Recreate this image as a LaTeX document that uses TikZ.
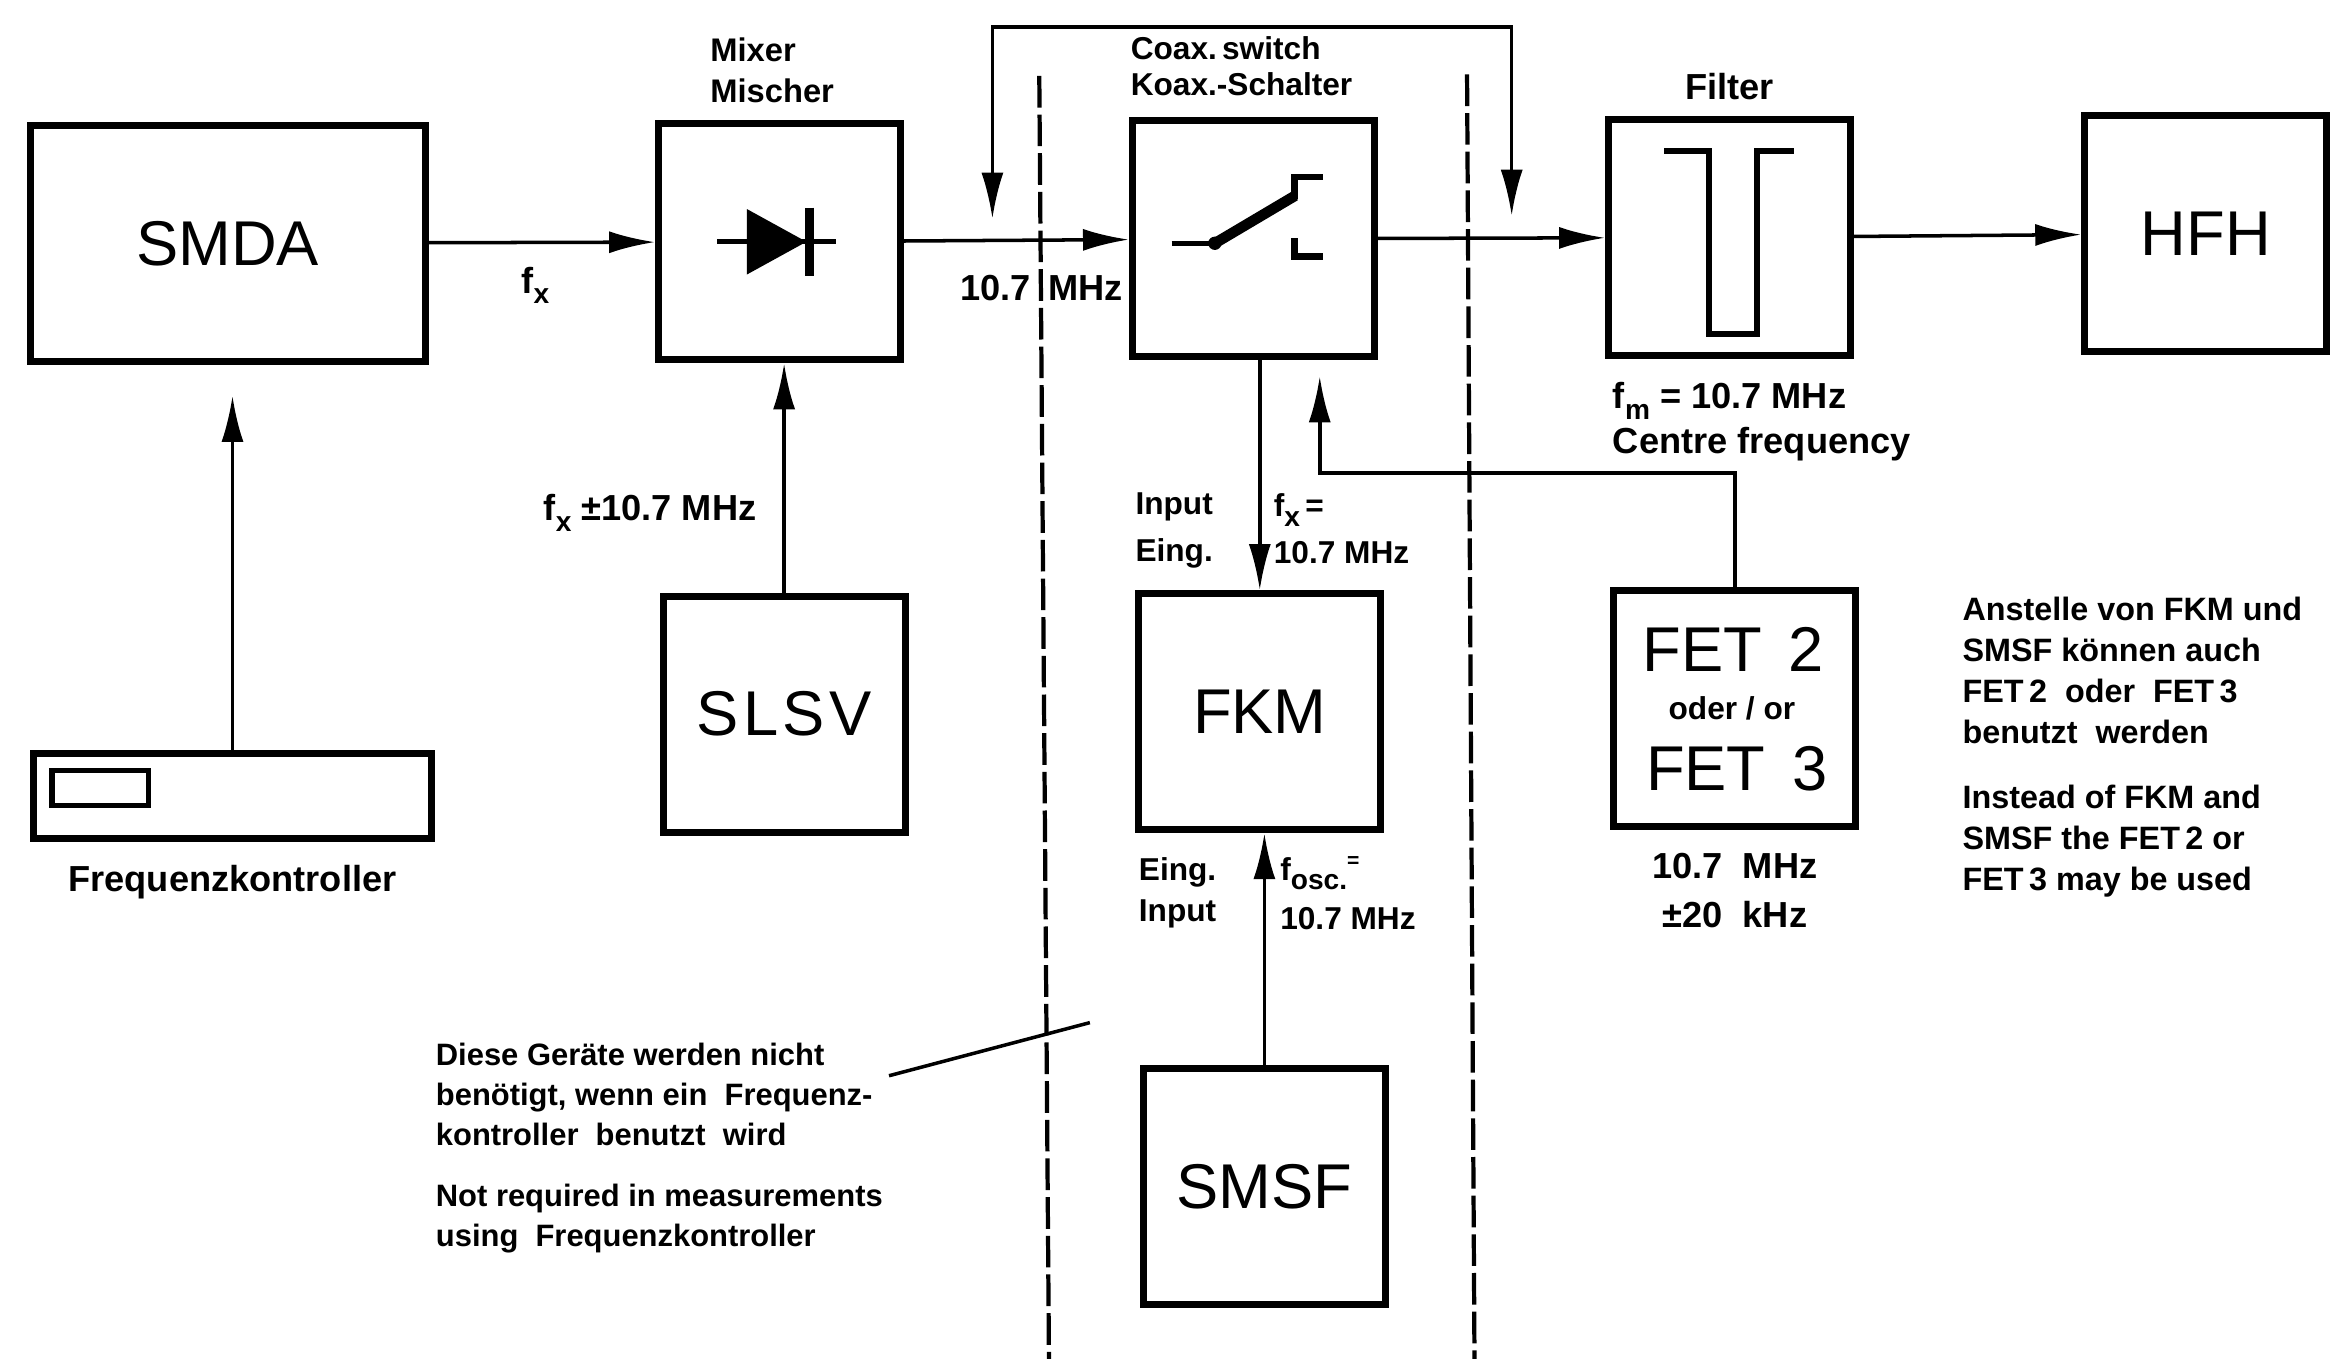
\documentclass[tikz,border=0pt]{standalone}
\usepackage{fontspec}
\setmainfont{Liberation Sans}
\usetikzlibrary{arrows.meta}

\newcommand{\lowidx}[1]{\raisebox{-0.55ex}{\footnotesize #1}}

\tikzset{
  unit/.style={draw, line width=2pt, minimum width=2.42cm, minimum height=2.36cm,
    inner sep=0pt, font=\fontsize{18}{20}\selectfont},
  sig/.style={line width=1pt, -{Latex[length=4.6mm,width=2.2mm]}},
  both/.style={line width=1pt, {Latex[length=4.6mm,width=2.2mm]}-{Latex[length=4.6mm,width=2.2mm]}},
  lab/.style={inner sep=0pt, align=left, font=\bfseries\fontsize{9}{13.3}\selectfont},
  mid/.style={inner sep=0pt, align=left, font=\bfseries\fontsize{10.3}{12.8}\selectfont},
  note/.style={inner sep=0pt, align=left, font=\bfseries\fontsize{8.8}{11.4}\selectfont},
  sep/.style={line width=1.2pt, dash pattern=on 9pt off 2pt},
  sym/.style={line width=1.8pt},
}

\begin{document}
\begin{tikzpicture}[x=0.01488cm, y=-0.01488cm]
  \useasboundingbox (0,0) rectangle (1568,913.3);

  \node [unit, minimum width=3.95cm] (smda) at (153,163.5) {SMDA};
  \node [unit] (mix) at (524,162.5) {};
  \node [unit] (sw) at (842.5,160.5) {};
  \node [unit, label={[mid, label distance=4.5pt]above:Filter}] (filt) at (1162.5,159.6) {};
  \node [unit] (hfh) at (1482.5,157) {HFH};

  \node [unit, minimum height=0.845cm, minimum width=3.98cm,
    label={[mid, label distance=6.4pt]below:Frequenzkontroller}] (fk) at (156.25,535) {};
  \node [unit] (slsv) at (527,480) {S\kern1.2pt L\kern1.2pt S\kern1.2pt V};
  \node [unit] (fkm) at (846.7,478.3) {FKM};
  \node [unit, label={[mid, align=center, font=\bfseries\fontsize{10.3}{14.1}\selectfont,
    label distance=6.4pt]below:{10.7\ \ MHz\\±20\ \ kHz}}] (fet) at (1166,476) {};
  \node [unit] (smsf) at (849.8,797.5) {SMSF};

  \node [inner sep=0pt, font=\fontsize{18}{20}\selectfont] (fet2) at (1165,436.5) {FET\hspace{7.6pt}2};
  \node [lab] (fetor) at (1164,476) {oder / or};
  \node [inner sep=0pt, font=\fontsize{18}{20}\selectfont] (fet3) at (1167.3,516.8) {FET\hspace{7.6pt}3};

  \begin{scope}[shift={(mix.center)}]
    \draw [line width=1.3pt] (-42,0) -- (38,0);
    \fill (-22,-22) -- (18,0) -- (-22,22) -- cycle;
    \draw [line width=2.5pt] (20,-23) -- (20,23);
  \end{scope}
  \begin{scope}[shift={(sw.center)}]
    \draw [line width=1.3pt] (-55,3) -- (-26,3);
    \fill (-26,3) circle (1.9pt);
    \draw [line width=3pt] (-26,3) -- (28,-29);
    \draw [sym] (27.5,-27) -- (27.5,-41.5) -- (46.5,-41.5);
    \draw [sym] (27.5,-0.5) -- (27.5,12) -- (46.5,12);
  \end{scope}
  \begin{scope}[shift={(filt.center)}]
    \draw [sym] (-44,-58) -- (-14,-58) -- (-14,65) -- (18.5,65) -- (18.5,-58) -- (43.5,-58);
  \end{scope}
  \begin{scope}[shift={(fk.center)}]
    \draw [line width=1.5pt] (-121.25,-17) rectangle (-56.25,6.5);
  \end{scope}

  \node [lab, anchor=north west, font=\bfseries\fontsize{9.3}{11.6}\selectfont] (mixcap) at (477,25) {Mixer\\Mischer};
  \node [lab, anchor=north west, font=\bfseries\fontsize{9}{10.3}\selectfont] (swcap) at (759.5,24) {Coax.\,switch\\Koax.-Schalter};
  \node [mid, anchor=base west] (fx) at (350,197) {f\lowidx{x}};
  \node [mid, anchor=base west] (ifq) at (645,202) {10.7\hspace{5pt}MHz};
  \node [mid, anchor=base west] (lofq) at (365,350) {f\lowidx{x} ±10.7 MHz};
  \node [mid, anchor=north west] (fm) at (1083.6,256.6) {f\lowidx{m} = 10.7 MHz\\Centre frequency};
  \node [lab, anchor=north west] (inA) at (762.7,330.7) {Input\\Eing.};
  \node [lab, anchor=north west] (inB) at (855.7,331.5) {f\lowidx{x}\,=\\10.7 MHz};
  \node [lab, anchor=north west, font=\bfseries\fontsize{9}{11.6}\selectfont] (inC) at (765,576) {Eing.\\Input};
  \node [lab, anchor=north west, font=\bfseries\fontsize{9}{14}\selectfont] (inD) at (860,575) {f\lowidx{osc.}\textsuperscript{=}\\10.7 MHz};

  \node [note, anchor=north west] (nA) at (292.5,700.4) {Diese Geräte werden nicht\\benötigt, wenn ein\ \ Frequenz-\\kontroller\ \ benutzt\ \ wird\\[5.9pt]Not required in measurements\\using\ \ Frequenzkontroller};
  \node [note, anchor=north west, font=\bfseries\fontsize{9.2}{11.6}\selectfont] (nB) at (1318.6,401) {Anstelle von FKM und\\SMSF können auch\\FET\,2\ \ oder\ \ FET\,3\\benutzt\ \ werden\\[7pt]Instead of FKM and\\SMSF the FET\,2 or\\FET\,3 may be used};

  \path [sig] (smda) edge (mix)
              (mix) edge (sw)
              (sw) edge (filt)
              (filt) edge (hfh);
  \draw [sig, shorten >=0.31cm] (fk) -- (fk |- smda.south);
  \path [sig] (slsv) edge (slsv |- mix.south);
  \draw [sig] (sw.south -| fkm) -- (fkm);
  \path [sig] (smsf) edge (smsf |- fkm.south);

  \coordinate (ret) at (887,318);
  \draw [sig, shorten >=0.16cm] (fet) |- (ret) -- (ret |- sw.south);

  \coordinate (loopL) at (667,147);
  \coordinate (loopR) at (1016,145);
  \draw [both] (loopL) -- ++(0,-129) -| (loopR);

  \coordinate (dA1) at (698.5,51);
  \coordinate (dA2) at (705,913.3);
  \coordinate (dB1) at (986,50);
  \coordinate (dB2) at (991,913.3);
  \draw [sep] (dA1) -- (dA2);
  \draw [sep] (dB1) -- (dB2);

  \coordinate (leadA) at (597.5,723);
  \coordinate (leadB) at (732.5,687.3);
  \draw [line width=1pt] (leadA) -- (leadB);
\end{tikzpicture}
\end{document}
